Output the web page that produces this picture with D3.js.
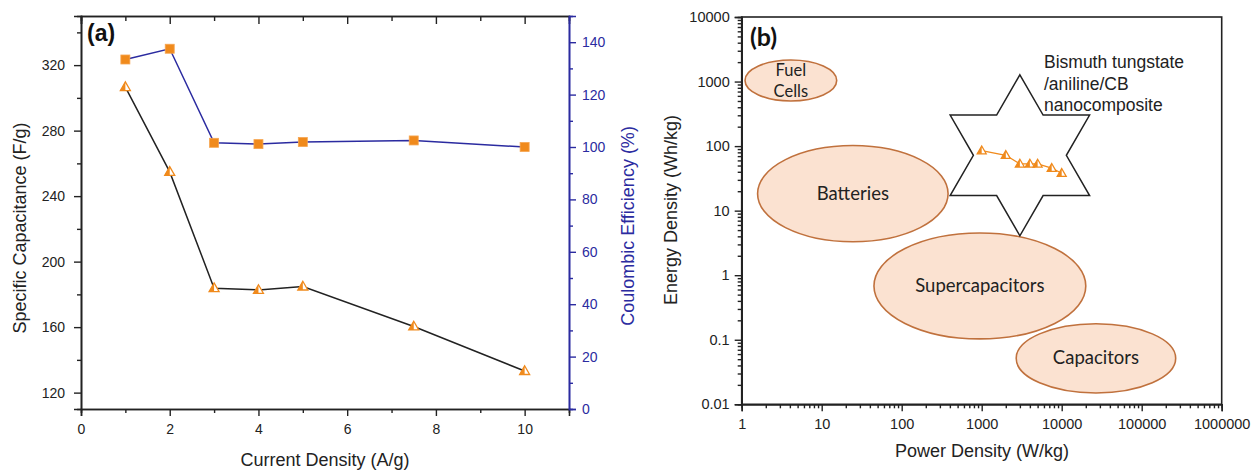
<!DOCTYPE html>
<html>
<head>
<meta charset="utf-8">
<script src="https://cdn.jsdelivr.net/npm/d3@7"></script>
<style>
  body { margin: 0; background: #fff; }
  svg { display: block; font-family: "Liberation Sans", Arial, sans-serif; }
</style>
</head>
<body>
<svg id="chart" width="1252" height="470"></svg>
<script>
// panel (a) data
const currentDensity = [1, 2, 3, 4, 5, 7.5, 10];
const specCapacitance = [306.6, 254.8, 183.8, 182.7, 184.8, 160.4, 133.2];
const coulombicEff = [133.4, 137.5, 101.6, 101.1, 101.9, 102.5, 100.0];
const xTicksA = [0, 2, 4, 6, 8, 10];
const yTicksLeft = [120, 160, 200, 240, 280, 320];
const yTicksRight = [0, 20, 40, 60, 80, 100, 120, 140];

// panel (b) data
const powerDensity = [1000, 2000, 3000, 4000, 5000, 7500, 10000];
const energyDensity = [85, 72, 53, 53, 53, 45.5, 38];
const regionNames = ["Fuel|Cells", "Batteries", "Supercapacitors", "Capacitors"];
const regionPower = [[1.1, 15.4], [1.58, 380], [45, 20000], [2700, 266000]];
const regionEnergy = [[500, 2160], [3.3, 102], [0.103, 4.5], [0.015, 0.177]];
const starCentre = [3000, 72];
const xTicksB = [1, 10, 100, 1000, 10000, 100000, 1000000];
const yTicksB = [0.01, 0.1, 1, 10, 100, 1000, 10000];

const svg = d3.select("#chart");
const ink = "#222";
const blue = "#2b2ba0";
const orange = "#f08a1c";

// ---------- panel (a) ----------
const xA = d3.scaleLinear().domain([0, 11]).range([81, 569]);
const yL = d3.scaleLinear().domain([110, 350]).range([409, 16]);
const yR = d3.scaleLinear().domain([0, 150]).range([409, 16]);

const gA = svg.append("g");

function styleAxis(g, color, fs) {
  g.select(".domain").attr("stroke", color).attr("stroke-width", 1.6);
  g.selectAll(".tick line").attr("stroke", color).attr("stroke-width", 1.4);
  g.selectAll(".tick text").attr("fill", color).attr("font-size", fs || 14)
    .attr("font-family", "Liberation Sans, Arial, sans-serif");
}

// minor ticks first so majors sit on top
gA.append("g").attr("transform", "translate(0,409)")
  .call(d3.axisBottom(xA).tickValues(d3.range(1, 11, 2)).tickSize(4).tickFormat(""))
  .call(g => styleAxis(g, ink));
gA.append("g").attr("transform", "translate(0,409)")
  .call(d3.axisBottom(xA).tickValues(xTicksA).tickSize(7).tickPadding(8))
  .call(g => styleAxis(g, ink));
gA.append("g").attr("transform", "translate(0,16)")
  .call(d3.axisBottom(xA).tickValues(d3.range(1, 11, 2)).tickSize(5).tickFormat(""))
  .call(g => styleAxis(g, ink));
gA.append("g").attr("transform", "translate(0,16)")
  .call(d3.axisBottom(xA).tickValues(xTicksA).tickSize(8).tickFormat(""))
  .call(g => styleAxis(g, ink));

gA.append("g").attr("transform", "translate(81,0)")
  .call(d3.axisLeft(yL).tickValues(d3.range(140, 350, 40)).tickSize(4).tickFormat(""))
  .call(g => styleAxis(g, ink));
gA.append("g").attr("transform", "translate(81,0)")
  .call(d3.axisLeft(yL).tickValues(yTicksLeft).tickSize(7).tickPadding(9))
  .call(g => styleAxis(g, ink));

gA.append("g").attr("transform", "translate(569,0)")
  .call(d3.axisRight(yR).tickValues(d3.range(10, 150, 20)).tickSize(4).tickFormat(""))
  .call(g => styleAxis(g, blue));
gA.append("g").attr("transform", "translate(569,0)")
  .call(d3.axisRight(yR).tickValues(yTicksRight).tickSize(7).tickPadding(6))
  .call(g => styleAxis(g, blue));

// lines
const capLine = d3.line().x((d, i) => xA(currentDensity[i])).y(d => yL(d));
const effLine = d3.line().x((d, i) => xA(currentDensity[i])).y(d => yR(d));

gA.append("path").attr("d", capLine(specCapacitance))
  .attr("fill", "none").attr("stroke", ink).attr("stroke-width", 1.5);
gA.append("path").attr("d", effLine(coulombicEff))
  .attr("fill", "none").attr("stroke", blue).attr("stroke-width", 1.5);

// half filled triangle marker
function triangle(g, cx, cy, s) {
  const h = s * 0.87;
  const top = [cx, cy - h * 0.6], bl = [cx - s / 2, cy + h * 0.4], br = [cx + s / 2, cy + h * 0.4];
  g.append("path").attr("d", `M${top}L${br}L${bl}Z`)
    .attr("fill", "#fff").attr("stroke", orange).attr("stroke-width", 1.3);
  g.append("path").attr("d", `M${top}L${[cx, bl[1]]}L${bl}Z`)
    .attr("fill", orange).attr("stroke", "none");
}

specCapacitance.forEach((v, i) => triangle(gA, xA(currentDensity[i]), yL(v), 10));

gA.selectAll("rect.sq").data(coulombicEff).join("rect")
  .attr("class", "sq")
  .attr("x", (d, i) => xA(currentDensity[i]) - 4.5)
  .attr("y", d => yR(d) - 4.5)
  .attr("width", 9).attr("height", 9)
  .attr("fill", orange).attr("stroke", "#f6a550").attr("stroke-width", 0.8);

gA.append("text").attr("x", 87).attr("y", 41)
  .attr("font-size", 23).attr("font-weight", "bold").attr("fill", "#111").text("(a)");

gA.append("text").attr("transform", "translate(26,228) rotate(-90)")
  .attr("text-anchor", "middle").attr("font-size", 18).attr("fill", ink)
  .text("Specific Capacitance (F/g)");
gA.append("text").attr("transform", "translate(634,226) rotate(-90)")
  .attr("text-anchor", "middle").attr("font-size", 18).attr("fill", blue)
  .text("Coulombic Efficiency (%)");
gA.append("text").attr("x", 325).attr("y", 466)
  .attr("text-anchor", "middle").attr("font-size", 18).attr("fill", ink)
  .text("Current Density (A/g)");

// ---------- panel (b) ----------
const xB = d3.scaleLog().domain([1, 1e6]).range([741.7, 1221.7]);
const yB = d3.scaleLog().domain([0.01, 1e4]).range([404.3, 17]);
const gB = svg.append("g");

const minorX = [], minorY = [];
xTicksB.slice(0, -1).forEach(d => { for (let k = 2; k < 10; k++) minorX.push(d * k); });
yTicksB.slice(0, -1).forEach(d => { for (let k = 2; k < 10; k++) minorY.push(d * k); });

// regions
regionNames.forEach((name, i) => {
  const x0 = xB(regionPower[i][0]), x1 = xB(regionPower[i][1]);
  const y0 = yB(regionEnergy[i][1]), y1 = yB(regionEnergy[i][0]);
  const cx = (x0 + x1) / 2, cy = (y0 + y1) / 2;
  gB.append("ellipse").attr("cx", cx).attr("cy", cy)
    .attr("rx", (x1 - x0) / 2).attr("ry", (y1 - y0) / 2)
    .attr("fill", "#fbe2d1").attr("stroke", "#c0713d").attr("stroke-width", 1.6);
  const lines = name.split("|");
  lines.forEach((t, j) => {
    gB.append("text").attr("x", cx)
      .attr("y", cy + (j - (lines.length - 1) / 2) * 21 + 6)
      .attr("text-anchor", "middle").attr("font-family", "Lato, sans-serif")
      .attr("font-size", lines.length > 1 ? 16.5 : 18.5).attr("fill", ink).text(t);
  });
});

// star
const sc = [xB(starCentre[0]), yB(starCentre[1])];
const R = 80.5, r = R / Math.sqrt(3);
const starPts = d3.range(12).map(k => {
  const a = -Math.PI / 2 + k * Math.PI / 6;
  const rad = k % 2 === 0 ? R : r;
  return [sc[0] + rad * Math.cos(a), sc[1] + rad * Math.sin(a)];
});
gB.append("path").attr("d", d3.line()(starPts) + "Z")
  .attr("fill", "#fff").attr("stroke", ink).attr("stroke-width", 1.5);

// data in star
const ragone = d3.line().x((d, i) => xB(powerDensity[i])).y(d => yB(d));
gB.append("path").attr("d", ragone(energyDensity))
  .attr("fill", "none").attr("stroke", orange).attr("stroke-width", 1.3);
energyDensity.forEach((v, i) => triangle(gB, xB(powerDensity[i]), yB(v), 9));

["Bismuth tungstate", "/aniline/CB", "nanocomposite"].forEach((t, j) => {
  gB.append("text").attr("x", 1044).attr("y", 68 + j * 21.5)
    .attr("font-size", 17.5).attr("fill", ink).text(t);
});

gB.append("text").attr("x", 750).attr("y", 46)
  .attr("font-family", "Lato, sans-serif")
  .attr("font-size", 25).attr("font-weight", "bold").attr("fill", "#111").text("(b)");

// frame + axes
gB.append("rect").attr("x", 741.7).attr("y", 17)
  .attr("width", 480).attr("height", 387.3)
  .attr("fill", "none").attr("stroke", ink).attr("stroke-width", 1.6);

gB.append("g").attr("transform", "translate(0,404.3)")
  .call(d3.axisBottom(xB).tickValues(minorX).tickSize(4).tickFormat(""))
  .call(g => styleAxis(g, ink));
gB.append("g").attr("transform", "translate(0,404.3)")
  .call(d3.axisBottom(xB).tickValues(xTicksB).tickSize(7).tickPadding(7).tickFormat(d3.format("")))
  .call(g => styleAxis(g, ink, 14.5));
gB.append("g").attr("transform", "translate(741.7,0)")
  .call(d3.axisLeft(yB).tickValues(minorY).tickSize(4).tickFormat(""))
  .call(g => styleAxis(g, ink));
gB.append("g").attr("transform", "translate(741.7,0)")
  .call(d3.axisLeft(yB).tickValues(yTicksB).tickSize(7).tickPadding(5).tickFormat(d3.format("")))
  .call(g => styleAxis(g, ink, 14.5));

gB.append("text").attr("transform", "translate(677,210) rotate(-90)")
  .attr("text-anchor", "middle").attr("font-size", 18).attr("fill", ink)
  .text("Energy Density (Wh/kg)");
gB.append("text").attr("x", 982).attr("y", 457)
  .attr("text-anchor", "middle").attr("font-size", 18).attr("fill", ink)
  .text("Power Density (W/kg)");
</script>
</body>
</html>
